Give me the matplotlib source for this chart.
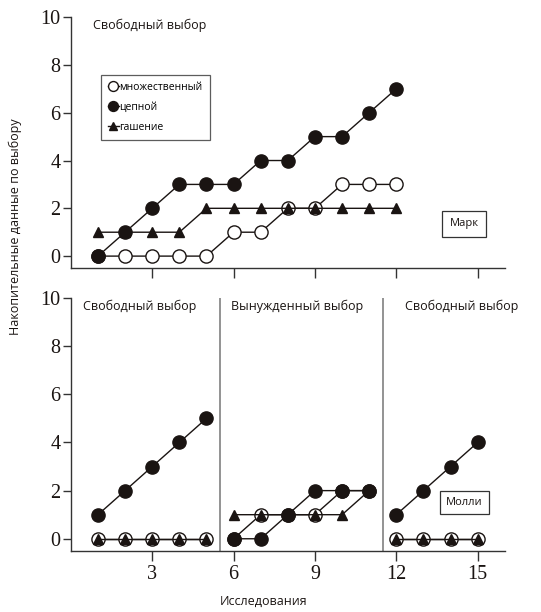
import numpy as np
import matplotlib
matplotlib.use("Agg")
import matplotlib.pyplot as plt

plt.rcParams['font.family'] = ['Open Sans', 'DejaVu Sans']

# ---- top panel (Марк) ----
top_x = [1, 2, 3, 4, 5, 6, 7, 8, 9, 10, 11, 12]
top_multi = [0, 0, 0, 0, 0, 1, 1, 2, 2, 3, 3, 3]
top_chain = [0, 1, 2, 3, 3, 3, 4, 4, 5, 5, 6, 7]
top_ext = [1, 1, 1, 1, 2, 2, 2, 2, 2, 2, 2, 2]

# ---- bottom panel (Молли), three phases ----
sec1_x = [1, 2, 3, 4, 5]
sec1_multi = [0, 0, 0, 0, 0]
sec1_chain = [1, 2, 3, 4, 5]
sec1_ext = [0, 0, 0, 0, 0]

sec2_x = [6, 7, 8, 9, 10, 11]
sec2_multi = [0, 1, 1, 1, 2, 2]
sec2_chain = [0, 0, 1, 2, 2, 2]
sec2_ext = [1, 1, 1, 1, 1, 2]

sec3_x = [12, 13, 14, 15]
sec3_multi = [0, 0, 0, 0]
sec3_chain = [1, 2, 3, 4]
sec3_ext = [0, 0, 0, 0]

phase_names = ["Свободный выбор", "Вынужденный выбор", "Свободный выбор"]
phase_pos = [2.55, 8.35, 14.4]
phase_bounds = [5.5, 11.5]
x_ticks = [3, 6, 9, 12, 15]
y_ticks = [0, 2, 4, 6, 8, 10]

ink = '#1a1412'
serif = 'Liberation Serif'

fig = plt.figure(figsize=(5.41, 6.12), dpi=100)
ax1 = fig.add_axes([0.131, 0.562, 0.802, 0.410])
ax2 = fig.add_axes([0.131, 0.100, 0.802, 0.413])


def draw(ax, x, multi, chain, ext, with_label=False):
    ax.plot(x, multi, '-o', color=ink, mfc='white', mec=ink, mew=1.0, ms=9.5, lw=1.0,
            label='множественный' if with_label else None, zorder=2)
    ax.plot(x, ext, '-^', color=ink, mfc=ink, mec=ink, ms=7, lw=1.0,
            label='гашение' if with_label else None, zorder=3)
    ax.plot(x, chain, '-o', color=ink, mfc=ink, mec=ink, ms=9.5, lw=1.0,
            label='цепной' if with_label else None, zorder=4)


draw(ax1, top_x, top_multi, top_chain, top_ext, with_label=True)
draw(ax2, sec1_x, sec1_multi, sec1_chain, sec1_ext)
draw(ax2, sec2_x, sec2_multi, sec2_chain, sec2_ext)
draw(ax2, sec3_x, sec3_multi, sec3_chain, sec3_ext)

for b in phase_bounds:
    ax2.axvline(b, color='#808080', lw=1.2, zorder=1)

for ax in (ax1, ax2):
    ax.set_xlim(0, 16)
    ax.set_ylim(-0.5, 10)
    ax.spines['top'].set_visible(False)
    ax.spines['right'].set_visible(False)
    for s in ('left', 'bottom'):
        ax.spines[s].set_color('#333333')
        ax.spines[s].set_linewidth(1.0)
    ax.set_xticks(x_ticks)
    ax.set_yticks(y_ticks)
    ax.tick_params(axis='both', direction='out', color='#333333', width=1.0)
    ax.tick_params(axis='x', length=7, pad=3)
    ax.tick_params(axis='y', length=6, pad=1.5)
    for lab in ax.get_yticklabels() + ax.get_xticklabels():
        lab.set_fontfamily(serif)
        lab.set_fontsize(14.5)
        lab.set_color(ink)

ax1.tick_params(axis='x', labelbottom=False)

ax1.text(2.9, 9.65, "Свободный выбор", fontsize=9, ha='center', va='center', color=ink)
for name, xp in zip(phase_names, phase_pos):
    ax2.text(xp, 9.65, name, fontsize=9, ha='center', va='center', color=ink)

# legend in same order as reference
h, l = ax1.get_legend_handles_labels()
order = [0, 2, 1]
leg = ax1.legend([h[i] for i in order], [l[i] for i in order], loc='upper left',
                 bbox_to_anchor=(0.069, 0.77), borderaxespad=0, fontsize=7.5,
                 handlelength=1.0, handletextpad=0.1, markerscale=0.75,
                 fancybox=False, edgecolor='#333333', frameon=True,
                 borderpad=0.7, labelspacing=0.85)
leg.get_frame().set_linewidth(0.9)

ax1.text(14.5, 1.35, "Марк", fontsize=8, ha='center', va='center', color=ink,
         bbox=dict(boxstyle='square,pad=0.7', fc='white', ec='#333333', lw=0.9))
ax2.text(14.5, 1.5, "Молли", fontsize=8, ha='center', va='center', color=ink,
         bbox=dict(boxstyle='square,pad=0.55', fc='white', ec='#333333', lw=0.9))

fig.text(0.028, 0.629, "Накопительные данные по выбору", rotation=90,
         fontsize=9, ha='center', va='center', color=ink)
fig.text(0.488, 0.017, "Исследования", fontsize=9, ha='center', va='center', color=ink)

fig.savefig("out.png", dpi=100)
